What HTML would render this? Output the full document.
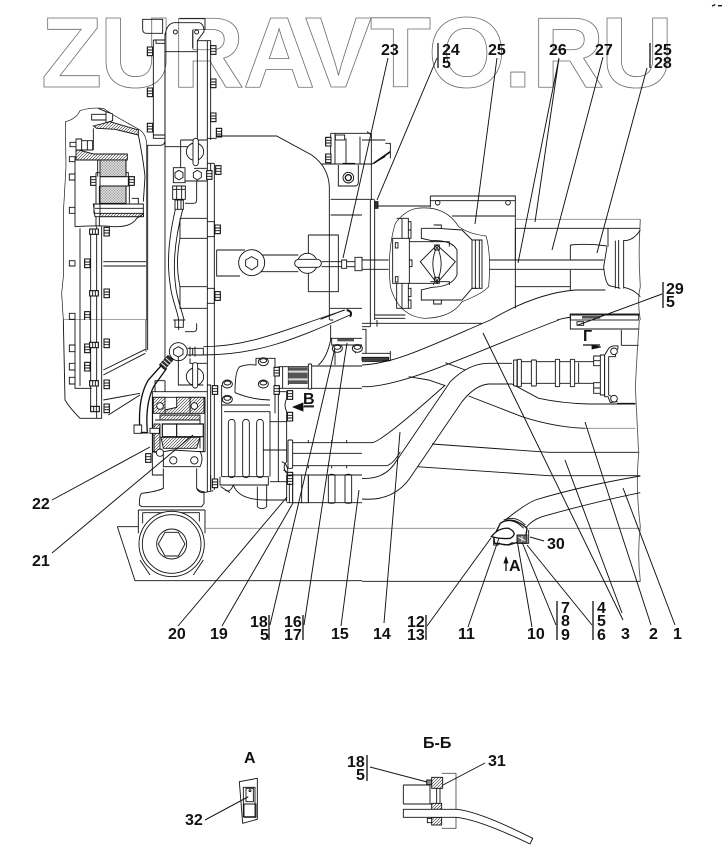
<!DOCTYPE html>
<html><head><meta charset="utf-8"><style>
html,body{margin:0;padding:0;background:#fff;width:723px;height:856px;overflow:hidden}
svg{display:block}
.t text{font-family:"Liberation Sans",sans-serif;font-weight:bold;font-size:16px;fill:#111}
</style></head><body>
<svg width="723" height="856" viewBox="0 0 723 856" xmlns="http://www.w3.org/2000/svg">
<defs>
<pattern id="h" width="9" height="9" patternUnits="userSpaceOnUse"><rect width="9" height="9" fill="#fff"/><path d="M-2,11 L11,-2 M-2,2 L2,-2 M7,11 L11,7" stroke="#222" stroke-width="1.6"/></pattern>
<pattern id="x" width="8" height="8" patternUnits="userSpaceOnUse"><rect width="8" height="8" fill="#777"/><path d="M0,0 L8,8 M8,0 L0,8" stroke="#fff" stroke-width="2"/></pattern>
<g id="b"><rect x="-8" y="-13" width="16" height="26" fill="#fff"/><path d="M-8,-13 H8 V13 H-8 Z M-8,-4 H8 M-8,4 H8"/></g>
<g id="bh"><rect x="-13" y="-8" width="26" height="16" fill="#fff"/><path d="M-13,-8 H13 V8 H-13 Z M-4,-8 V8 M4,-8 V8"/></g>
<g id="nut"><ellipse cx="0" cy="0" rx="15" ry="12" fill="#fff"/><ellipse cx="0" cy="-3" rx="10" ry="6" fill="#fff"/></g>
</defs>
<g fill="none" stroke="#6c6c6c" stroke-width=".8" font-family="Liberation Sans" font-weight="bold" font-size="100">
<text x="41" y="87">Z</text><text x="100" y="87">U</text><text x="172" y="87">R</text><text x="243" y="87">A</text><text x="305" y="87">V</text><text x="370" y="87">T</text><text x="428" y="87">O</text><text x="504" y="87">.</text><text x="532" y="87">R</text><text x="601" y="87">U</text>
</g>

<!-- ZOOM 1 -->
<g transform="scale(.33333)" fill="none" stroke="#111" stroke-width="2.7">
<path d="M428,58 H488 V100 H440 Q428,100 428,88 Z M538,56 H615 V90"/>
<path d="M495,120 Q495,72 522,68 H598 Q612,72 612,95 L592,122 V440 H495 Z"/>
<circle cx="526" cy="96" r="6"/><circle cx="590" cy="96" r="6"/>
<path d="M578,90 V145 M495,155 H592 M460,120 H495 M460,120 V415 H495 M468,120 V130 H495 M460,405 H495"/>
<path d="M495,100 V960 M592,122 H632 V420 M622,122 V960 M632,490 V520 M643,490 V960 M622,490 H643"/>
<use href="#b" x="450" y="154"/><use href="#b" x="450" y="277"/><use href="#b" x="450" y="383"/>
<use href="#b" x="640" y="150"/><use href="#b" x="640" y="250"/><use href="#b" x="640" y="352"/><use href="#b" x="657" y="398"/><use href="#b" x="655" y="510"/><use href="#b" x="653" y="688"/><use href="#b" x="653" y="888"/><use href="#b" x="628" y="525"/>
<path d="M622,415 H650 M622,665 H643 V710 H622 M622,865 H643 V910 H622"/>
<!-- left housing -->
<path fill="#fff" d="M196,365 Q228,358 240,332 Q270,322 310,325 L340,345 L420,390 Q440,405 440,436 V960 H190 L185,880 L190,830 L190,640 L198,500 Z" stroke-width="2"/>
<path d="M440,436 H482 Q495,435 495,420 M443,436 V960"/>
<path fill="url(#h)" d="M280,378 L330,365 L415,390 V405 L345,388 L290,385 Z"/>
<path d="M280,385 V450 M415,405 Q430,480 435,530 L430,605"/>
<path fill="#fff" d="M275,343 H318 V360 H275 Z"/><path fill="#fff" d="M318,335 L338,342 V362 L318,368 Z M295,325 L318,335"/>
<path fill="url(#h)" d="M228,448 L282,462 H382 V480 H228 Z"/>
<path fill="#fff" d="M210,427 H228 V440 H210 Z M228,417 H245 V450 H228 Z M245,422 H278 V450 H245 Z M262,422 V450"/>
<path fill="#fff" d="M208,470 H225 V485 H208 Z M208,522 H225 V540 H208 Z M208,622 H225 V640 H208 Z M208,782 H225 V798 H208 Z M208,940 H225 V958 H208 Z"/>
<rect x="300" y="480" width="78" height="50" fill="url(#x)"/><rect x="300" y="558" width="78" height="52" fill="url(#x)"/>
<path d="M293,480 V530 M378,480 V530 M288,518 H300 V558 H385 V518 H378 M300,530 H385 M288,518 V680 M298,558 V680 M378,558 V610 M388,558 V610"/>
<use href="#b" x="280" y="543"/><use href="#b" x="395" y="543"/>
<path fill="#fff" d="M280,612 H430 V650 H285 Z"/><path d="M395,595 H415 V610 M285,625 H430"/>
<rect x="300" y="640" width="130" height="10" fill="url(#h)"/>
<path d="M282,612 H300 V640 H282 Z M225,680 Q300,675 340,680 Q395,682 410,655 L432,640"/>
<path d="M225,484 V680 M240,685 V960 M272,685 V960 M290,680 V960 M305,680 V960"/>
<use href="#bh" x="282" y="695"/><use href="#b" x="320" y="695"/><use href="#b" x="262" y="790"/><use href="#b" x="320" y="880"/><use href="#bh" x="282" y="880"/><use href="#b" x="262" y="948"/>
<path d="M310,785 H438 M310,798 H438"/>
<!-- valve -->
<path d="M542,420 H622 M542,420 V543 H622 M582,505 H622"/>
<circle cx="585" cy="455" r="26" fill="#fff"/><rect x="579" y="415" width="16" height="82" rx="8" fill="#fff"/>
<path fill="#fff" d="M520,503 H555 V548 H520 Z M592,511 L604,518 V532 L592,540 L580,532 V518 Z M537,511 L549,518 V532 L537,540 L525,532 V518 Z"/>
<path fill="#fff" d="M518,558 H556 V598 H518 Z M518,568 H556 M530,558 V598 M545,558 V598 M525,600 H550 V628 H525 Z M533,600 V628 M543,600 V628"/>
<path d="M590,545 V600 Q590,610 580,610 H555"/>
<path d="M526,628 C512,690 498,770 510,850 C515,900 532,930 536,960 M548,628 C532,690 516,770 526,850 C530,900 546,930 552,960"/>
<path d="M540,655 H622 M540,655 V715 H622 M540,715 Q525,790 540,860 H622 M540,860 V925 H622"/>
<!-- arm -->
<path d="M650,750 H735 M650,750 V828 H720 M780,765 H895 M780,815 H895 M990,785 H1025 M965,785 H1025 M965,800 H1025"/>
<circle cx="755" cy="788" r="39" fill="#fff"/><path d="M755,770 L773,780 V798 L755,810 L737,798 V780 Z"/>
<path d="M925,705 H1015 V875 H925 M925,705 V760 M925,820 V875 M988,560 V960 M992,598 H1086 M992,645 H1086 M990,925 H1086"/>
<circle cx="922" cy="790" r="30" fill="#fff"/><rect x="884" y="778" width="80" height="24" rx="12" fill="#fff"/>
<path fill="#fff" d="M1025,780 H1040 V805 H1025 Z M1040,785 H1065 V800 H1040 Z M1065,772 H1086 V812 H1065 Z"/>
<!-- big housing -->
<path d="M650,408 H830 L935,465 Q985,500 988,560"/>
<path d="M965,492 H1086 M992,400 H1086 M992,400 V492 M1005,400 V492 M1038,415 V490 M1080,410 V490"/>
<rect x="1006" y="405" width="28" height="15" fill="#fff"/><use href="#b" x="985" y="425"/><use href="#b" x="985" y="475"/>
<path d="M1015,495 V558 H1066 Q1075,558 1075,545 V495 M1028,490 H1065"/>
<circle cx="1045" cy="533" r="16"/><circle cx="1045" cy="533" r="9" stroke-width="4"/>
<path d="M990,960 H1000 M962,958 L1032,930" /><path stroke-width="6" d="M1040,930 Q1060,935 1050,950"/>
</g>

<!-- ZOOM 2 -->
<g transform="translate(362,0) scale(.33333)" fill="none" stroke="#111" stroke-width="2.7">
<path d="M0,400 H28 V600 M0,420 H70 M70,430 H85 V475 M0,492 H30 L70,470 M15,395 L28,405"/>
<path stroke-width="5" d="M35,490 L85,455"/>
<path d="M25,600 V960 M38,600 V960 M0,598 H38 M40,618 H205 M38,945 H130 M38,955 H130"/>
<rect x="38" y="605" width="10" height="20" fill="#333"/>
<path d="M205,588 H460 V925 M205,588 V622 M205,602 H460 M460,648 H270"/>
<circle cx="227" cy="608" r="7"/><circle cx="438" cy="608" r="7"/>
<path stroke="#888" d="M460,658 H835"/><path d="M460,685 H835 M738,685 V740"/>
<path d="M625,735 Q680,730 735,738 M625,735 V778 M625,810 V870 M460,860 H625 M460,685 V780"/>
<path d="M380,780 H725 M380,808 H725"/>
<path d="M835,658 Q828,760 835,860 Q825,900 835,960" stroke="#555"/>
<path d="M735,740 L725,800 Q730,855 745,858 L775,865 M785,722 Q815,722 835,690 M785,862 Q815,868 835,890 M760,722 V865 M770,720 V866 M785,720 V866"/>
<path d="M0,780 H80 M0,808 H80"/>
<!-- blob -->
<path fill="#fff" d="M165,625 Q250,615 290,680 Q320,702 372,708 Q388,760 380,860 Q360,882 300,905 Q270,952 190,955 Q110,950 85,860 Q75,750 100,670 Q130,630 165,625 Z" stroke-width="2"/>
<path d="M92,715 H142 V850 H92 Z M104,655 H139 V715 M104,850 V925 H139 V850 M120,655 V715 M120,850 V925"/>
<path d="M139,665 H147 V690 H139 M139,690 H147 V715 H139 M139,865 H147 V890 H139 M139,900 H147 V925 H139 M142,780 H150 V800 H142"/>
<rect x="100" y="728" width="8" height="16" fill="#fff"/><rect x="100" y="830" width="8" height="16" fill="#fff"/>
<path d="M142,725 H215 M142,850 H215 V855"/>
<path d="M178,685 H225 L300,690 L330,720 H345 M178,685 V715 L210,722 Q270,720 285,750 V825 Q270,860 210,862 L178,870 V900 H300 L330,865 H345"/>
<path d="M215,675 H238 V685 M215,900 H238 V912 H215 Z"/>
<path d="M225,735 L175,785 L225,850 L280,785 Z"/>
<path d="M225,740 Q200,790 225,845 Q250,790 225,740 M218,735 H232 V750 H218 Z M218,832 H232 V850 H218 Z M205,725 H262 V740 M205,845 H262 V855"/>
<path d="M330,720 H360 V865 H330 Z M340,720 V865 M352,720 V865"/>
<path d="M385,960 Q520,880 640,870 H730 M585,960 Q620,950 680,945"/>
<rect x="625" y="942" width="205" height="18" fill="#fff"/><path d="M625,942 V960 M625,945 H832" stroke-width="3"/>
<path d="M660,952 H715" stroke="#555" stroke-width="8"/>
<path d="M1050,18 L1060,14 M1068,17 H1080" stroke-width="4"/>
</g>

<!-- ZOOM 3 -->
<g transform="translate(0,320) scale(.33333)" fill="none" stroke="#111" stroke-width="2.7">
<path fill="#fff" stroke="none" d="M190,0 H440 V90 L420,225 L325,290 L240,295 Q210,265 195,240 Z"/>
<path d="M190,0 L195,240 Q210,265 240,295 H305 M225,0 V205 H275 M240,0 V198 M272,0 V270 M290,0 V295 M305,0 V295 M438,0 V95 M443,0 V90"/>
<path d="M310,150 L436,88 M310,165 L436,100 M310,240 L420,220 M325,285 L420,225"/>
<path fill="#fff" d="M208,75 H225 V95 H208 Z M208,130 H225 V150 H208 Z M208,172 H225 V192 H208 Z"/>
<use href="#b" x="320" y="70"/><use href="#b" x="320" y="193"/><use href="#b" x="320" y="265"/><use href="#b" x="262" y="85"/><use href="#b" x="262" y="140"/><use href="#bh" x="282" y="75"/><use href="#bh" x="282" y="190"/><use href="#bh" x="285" y="267"/>
<path d="M495,0 V130 M622,0 V515 M632,510 V195 H622 M643,0 V510 M590,10 V25 Q590,35 580,35 H555 M525,0 V22 H550 V0 M520,0 H556"/>
<path d="M536,0 V30"/>
<!-- pipe down to fitting -->
<path stroke-width="4" d="M420,335 Q412,235 445,180 L488,132 M442,335 Q435,250 462,198 L500,145"/>
<g transform="rotate(-48 498,128)"><rect x="480" y="118" width="38" height="20" fill="#333"/><path stroke="#fff" d="M488,118 V138 M498,118 V138 M508,118 V138"/></g>
<circle cx="535" cy="95" r="27" fill="#fff"/><path fill="#fff" d="M535,80 L549,88 V103 L535,111 L521,103 V88 Z"/>
<path d="M562,85 H610 V105 H562 M578,85 V105 M570,80 V110 M585,80 V110"/>
<path d="M610,80 C750,80 850,30 1035,-30 M610,105 C770,105 880,60 1050,-15"/>
<path d="M535,110 V195 H610 M622,130 H570 V115"/>
<circle cx="585" cy="170" r="26" fill="#fff"/><rect x="578" y="128" width="15" height="76" rx="7" fill="#fff"/>
<path d="M495,182 V215 M457,215 H622 M495,182 H465 V215 M457,215 V465 H490"/>
<!-- bearing housing -->
<path fill="#fff" d="M458,232 H615 V395 H458 Z"/>
<rect x="460" y="232" width="35" height="48" fill="url(#h)"/><rect x="570" y="232" width="42" height="48" fill="url(#h)"/>
<circle cx="480" cy="258" r="10" fill="#fff"/><circle cx="583" cy="258" r="10" fill="#fff"/>
<path fill="url(#h)" d="M495,270 L530,262 V232 H570 V280 H495 Z"/>
<path fill="url(#h)" d="M480,285 H600 V300 H480 Z"/><path d="M465,300 H600 V312"/>
<path d="M487,312 H610 V350 H487 Z M530,312 V350" stroke-width="3.5"/>
<path fill="url(#h)" d="M483,352 H600 L590,385 H490 Z"/>
<path d="M600,350 V385 M610,350 V395"/>
<rect x="462" y="312" width="18" height="85" fill="url(#h)"/>
<path fill="#fff" d="M402,315 H425 V340 H402 Z M450,325 H478 V340 H450 Z"/>
<path stroke-width="5" d="M422,338 H445"/>
<path d="M458,395 H610"/><circle cx="480" cy="398" r="11" fill="#fff"/>
<path fill="#fff" d="M490,395 L520,390 L600,395 Q612,415 600,440 H490 Z"/><circle cx="520" cy="421" r="11"/><circle cx="583" cy="421" r="11"/>
<use href="#b" x="445" y="414"/>
<path d="M490,445 V505 Q470,515 425,520 Q418,525 418,555 L425,560 H605 L612,550 V515 Q600,515 590,505 V445"/>
<path d="M590,505 Q595,518 610,518 L640,512 M632,512 V465"/>
<path d="M415,570 H615 M415,570 V640 M615,570 V640 M352,620 H415 M352,620 L405,782 H1086"/>
<path d="M428,578 H598 V605 M428,578 V610"/>
<path stroke="#888" d="M618,625 H1086"/>
<circle cx="515" cy="672" r="98" fill="#fff"/><circle cx="515" cy="672" r="88"/><circle cx="515" cy="672" r="45"/><path d="M495,637 H535 L555,672 L535,708 H495 L475,672 Z"/>
<path d="M450,765 L420,720 M580,765 L610,720"/>
<!-- pump -->
<path d="M705,218 Q705,150 720,140 Q740,132 768,135 V115 H825 V280 M835,220 V485 M665,255 H810 M810,240 Q760,240 705,218 M665,195 V255"/>
<path d="M665,255 V470 M672,275 H810 V470 M810,305 H860 V275 Q850,255 860,235 V215 H835 M785,390 H860 M860,275 V425 Q845,440 860,460 M810,485 H860"/>
<rect x="685" y="298" width="20" height="175" rx="10" fill="#fff"/><rect x="728" y="298" width="20" height="175" rx="10" fill="#fff"/><rect x="770" y="298" width="20" height="175" rx="10" fill="#fff"/>
<path d="M665,470 H805 V495 H700 Q715,540 800,540 H860 M660,470 V495 H700 Q690,520 675,510"/>
<path d="M772,500 V560 Q785,572 800,560 V495 M662,500 L690,518"/>
<use href="#b" x="645" y="490"/><use href="#b" x="645" y="210"/><use href="#b" x="830" y="155"/><use href="#b" x="830" y="210"/><use href="#b" x="870" y="225"/><use href="#b" x="870" y="290"/><use href="#b" x="870" y="470"/>
<use href="#nut" x="790" y="125"/><use href="#nut" x="790" y="192"/><use href="#nut" x="682" y="192"/><use href="#nut" x="682" y="238"/>
<!-- upper hose fitting -->
<path d="M835,140 H925 M835,205 H925 M848,140 V205 M865,140 V195"/>
<rect x="865" y="142" width="58" height="50" fill="#555" stroke="none"/><path stroke="#ddd" stroke-width="6" d="M865,155 H923 M865,178 H923"/>
<rect x="925" y="132" width="10" height="75" rx="3" fill="#fff"/>
<path d="M935,138 H1086 M935,205 H1086 M955,135 Q980,115 992,60 V15"/>
<!-- middle hose -->
<path d="M870,368 H1086 M870,437 H1086"/>
<rect x="864" y="360" width="14" height="85" rx="3" fill="#fff"/>
<path d="M925,360 V368 M995,360 V368 M1040,360 V368 M925,437 V445 M995,437 V445 M1040,437 V445"/>
<path d="M878,400 H1086 M845,425 Q860,430 862,445 Q868,460 850,450"/>
<!-- lower hose -->
<path d="M860,465 H1086 M860,548 H1086 M860,465 V545" />
<rect x="878" y="465" width="47" height="83" fill="#fff"/>
<path d="M878,465 V548 M905,465 V548 M925,465 V548 M985,465 V548 M1005,465 V548 M1035,465 V548 M1055,465 V548 M985,465 Q995,460 1005,465 M1035,465 Q1045,460 1055,465 M985,548 Q995,552 1005,548 M1035,548 Q1045,552 1055,548"/>
<use href="#b" x="870" y="480" /><path d="M868,490 V548"/>
<path d="M990,55 H1086 M995,55 V75 H1086 M1000,78 V95 M1005,95 V135 M1066,78 V100"/>
<rect x="1012" y="56" width="50" height="8" fill="#555" stroke="none"/>
<use href="#nut" x="1012" y="85"/><use href="#nut" x="1072" y="85"/>
</g>

<!-- ZOOM 4 -->
<g transform="translate(362,320) scale(.33333)" fill="none" stroke="#111" stroke-width="2.7">
<path d="M0,10 H360 M0,20 H25 M0,28 H12 V100 M25,0 V20 M45,0 V20 M0,100 H85 M85,93 V122 Q50,125 0,125"/>
<rect x="0" y="112" width="80" height="9" fill="#444"/>
<path d="M0,135 C100,130 200,80 385,0 M0,200 C120,205 350,90 590,0"/>
<path d="M625,0 V27 H832 M645,5 H665 V16 H645 Z M778,30 V76 M778,76 H830"/>
<path d="M250,128 L310,150 M140,170 L200,180 L250,197 M320,228 L480,290 Q580,322 670,325"/>
<path stroke="#888" d="M670,325 H820"/>
<path d="M210,372 L560,397 H832 M165,440 L560,467 H835"/>
<path d="M0,368 H30 Q60,365 250,195 M0,437 H75 Q95,430 115,395"/>
<path d="M0,475 Q70,480 105,420 L265,185 Q320,130 380,130 H450"/>
<path d="M0,537 Q100,545 150,465 L300,245 Q340,195 380,192 H450 L530,235 Q600,250 680,252 H820"/>
<path fill="#fff" d="M450,125 H695 V190 H450 Z" stroke="none"/>
<path d="M478,125 H508 M523,125 H580 M593,125 H625 M638,125 H695 M478,190 H508 M523,190 H580 M593,190 H625 M638,190 H695 M650,128 V190"/>
<rect x="455" y="120" width="10" height="78" rx="2" fill="#fff"/><rect x="466" y="118" width="12" height="82" rx="2" fill="#fff"/><rect x="508" y="120" width="15" height="78" rx="2" fill="#fff"/><rect x="580" y="118" width="13" height="82" rx="2" fill="#fff"/><rect x="625" y="118" width="13" height="82" rx="2" fill="#fff"/>
<path fill="#fff" d="M695,108 H715 V137 H695 Z M695,188 H715 V220 H695 Z M695,122 H715 M695,204 H715 M715,105 H728 V225 H715 Z"/>
<path fill="#fff" d="M728,105 L740,85 Q750,75 768,78 V85 Q760,92 760,110 H740 V225 Q760,235 765,245 L745,248 L738,230 H728 Z"/>
<circle cx="756" cy="94" r="10" fill="#fff"/><circle cx="756" cy="236" r="10" fill="#fff"/>
<path d="M765,250 H820"/>
<path stroke="#555" d="M832,0 Q825,100 820,200 Q825,300 830,400 Q820,500 835,620 Q825,700 835,784"/>
<path stroke="#888" d="M0,625 H400"/><path stroke="#666" d="M500,625 H835"/><path d="M0,784 H835"/>
<path d="M835,468 Q650,500 520,540 Q490,552 430,600 M835,518 Q700,545 540,590 Q510,600 490,625"/>
<path fill="#fff" stroke-width="4" d="M415,610 Q450,585 495,625 L490,660 L440,675 L398,670 L395,650 Z"/>
<path d="M425,600 Q460,585 490,615 M420,606 Q455,592 485,625"/>
<path fill="#fff" stroke-width="4" d="M388,650 Q410,622 440,625 Q470,640 445,655 Q420,658 388,650 Z"/>
<path d="M395,655 V675 H410 M410,668 Q430,682 450,668 L470,670 H500 V630"/>
<rect x="465" y="645" width="30" height="25" fill="#666"/>
<path stroke="#fff" d="M470,652 L490,662 M480,648 V668"/>
</g>

<!-- ZOOM 5 -->
<g transform="translate(170,740) scale(.33333)" fill="none" stroke="#111" stroke-width="2.7">
<path d="M208,125 L262,115 V238 L218,250 Z M220,142 H255 V230 H220 Z M228,145 H250 V185 H228 Z M222,192 H258 V232 H222 Z" />
<path d="M105,240 L235,170"/><circle cx="240" cy="152" r="3"/>
<path d="M700,135 H780 M700,192 H790 M700,135 V192 M780,135 V190 M800,145 V190"/>
<path stroke="#555" d="M815,100 H858 V265 H815"/>
<path d="M810,115 V250"/>
<rect x="785" y="112" width="33" height="33" fill="url(#h)"/><rect x="785" y="190" width="30" height="18" fill="url(#h)"/><rect x="785" y="232" width="30" height="23" fill="url(#h)"/>
<rect x="770" y="120" width="15" height="14" fill="#888"/><rect x="772" y="235" width="13" height="13" fill="#fff"/>
<path fill="#fff" d="M700,208 H860 Q930,215 1088,295 L1080,312 Q930,240 860,232 H700 Z"/>
</g>

<!-- Leader lines -->
<g stroke="#111" stroke-width=".95" fill="none">
<path d="M388,58 L343,258 M437,58 L377,200 M497,58 L475,224 M559,58 L518,263 M559,58 L535,222 M603,57 L552,250 M647,68 L597,253 M662,294 L578,325"/>
<path d="M52,500 L150,447 M52,553 L193,435 M178,626 L287,497 M222,626 L293,503 M270,625 L335,348 M304,625 L347,343 M341,626 L359,490 M384,623 L400,432 M427,626 L491,538 M468,627 L499,538 M532,627 L517,540 M556,625 L522,542 M592,625 L527,545 M623,620 L483,333 M622,613 L565,460 M651,625 L585,422 M675,625 L623,488 M544,541 L530,537"/>
<path d="M205,820 L248,797 M370,767 L427,782 M485,763 L443,785"/>
</g>
<g stroke="#111" stroke-width="1.3">
<path d="M438,43 V68 M650,43 V68 M663,282 V308 M269,615 V640 M303,615 V640 M426,615 V640 M557,601 V640 M593,601 V640 M367,755 V781"/>
<path d="M304,406 H314 M583,345 H600 M506,561 V571"/>
</g>
<path d="M293,407 L303,403 V411 Z M314,407 H303 M592,345 L601,347 L592,349 Z M506,557 L504,563 H508 Z" fill="#111" stroke="#111" stroke-width=".8"/>

<g class="t">
<text x="381" y="55">23</text><text x="442" y="55">24</text><text x="442" y="68">5</text><text x="488" y="55">25</text><text x="549" y="55">26</text><text x="595" y="55">27</text><text x="654" y="55">25</text><text x="654" y="68">28</text><text x="666" y="294">29</text><text x="666" y="307">5</text>
<text x="32" y="509">22</text><text x="32" y="566">21</text><text x="168" y="639">20</text><text x="210" y="639">19</text>
<text x="250" y="627">18</text><text x="260" y="640">5</text><text x="284" y="627">16</text><text x="284" y="640">17</text><text x="331" y="639">15</text><text x="373" y="639">14</text>
<text x="407" y="627">12</text><text x="407" y="640">13</text><text x="458" y="639">11</text><text x="527" y="639">10</text>
<text x="561" y="613">7</text><text x="561" y="626">8</text><text x="561" y="640">9</text><text x="597" y="613">4</text><text x="597" y="626">5</text><text x="597" y="640">6</text>
<text x="621" y="639">3</text><text x="649" y="639">2</text><text x="673" y="639">1</text><text x="547" y="549">30</text>
<text x="509" y="571">А</text><text x="583" y="341">Г</text><text x="303" y="404">В</text>
<text x="244" y="763">А</text><text x="185" y="825">32</text><text x="423" y="748">Б-Б</text><text x="347" y="767">18</text><text x="356" y="780">5</text><text x="488" y="766">31</text>
</g>
</svg>
</body></html>
